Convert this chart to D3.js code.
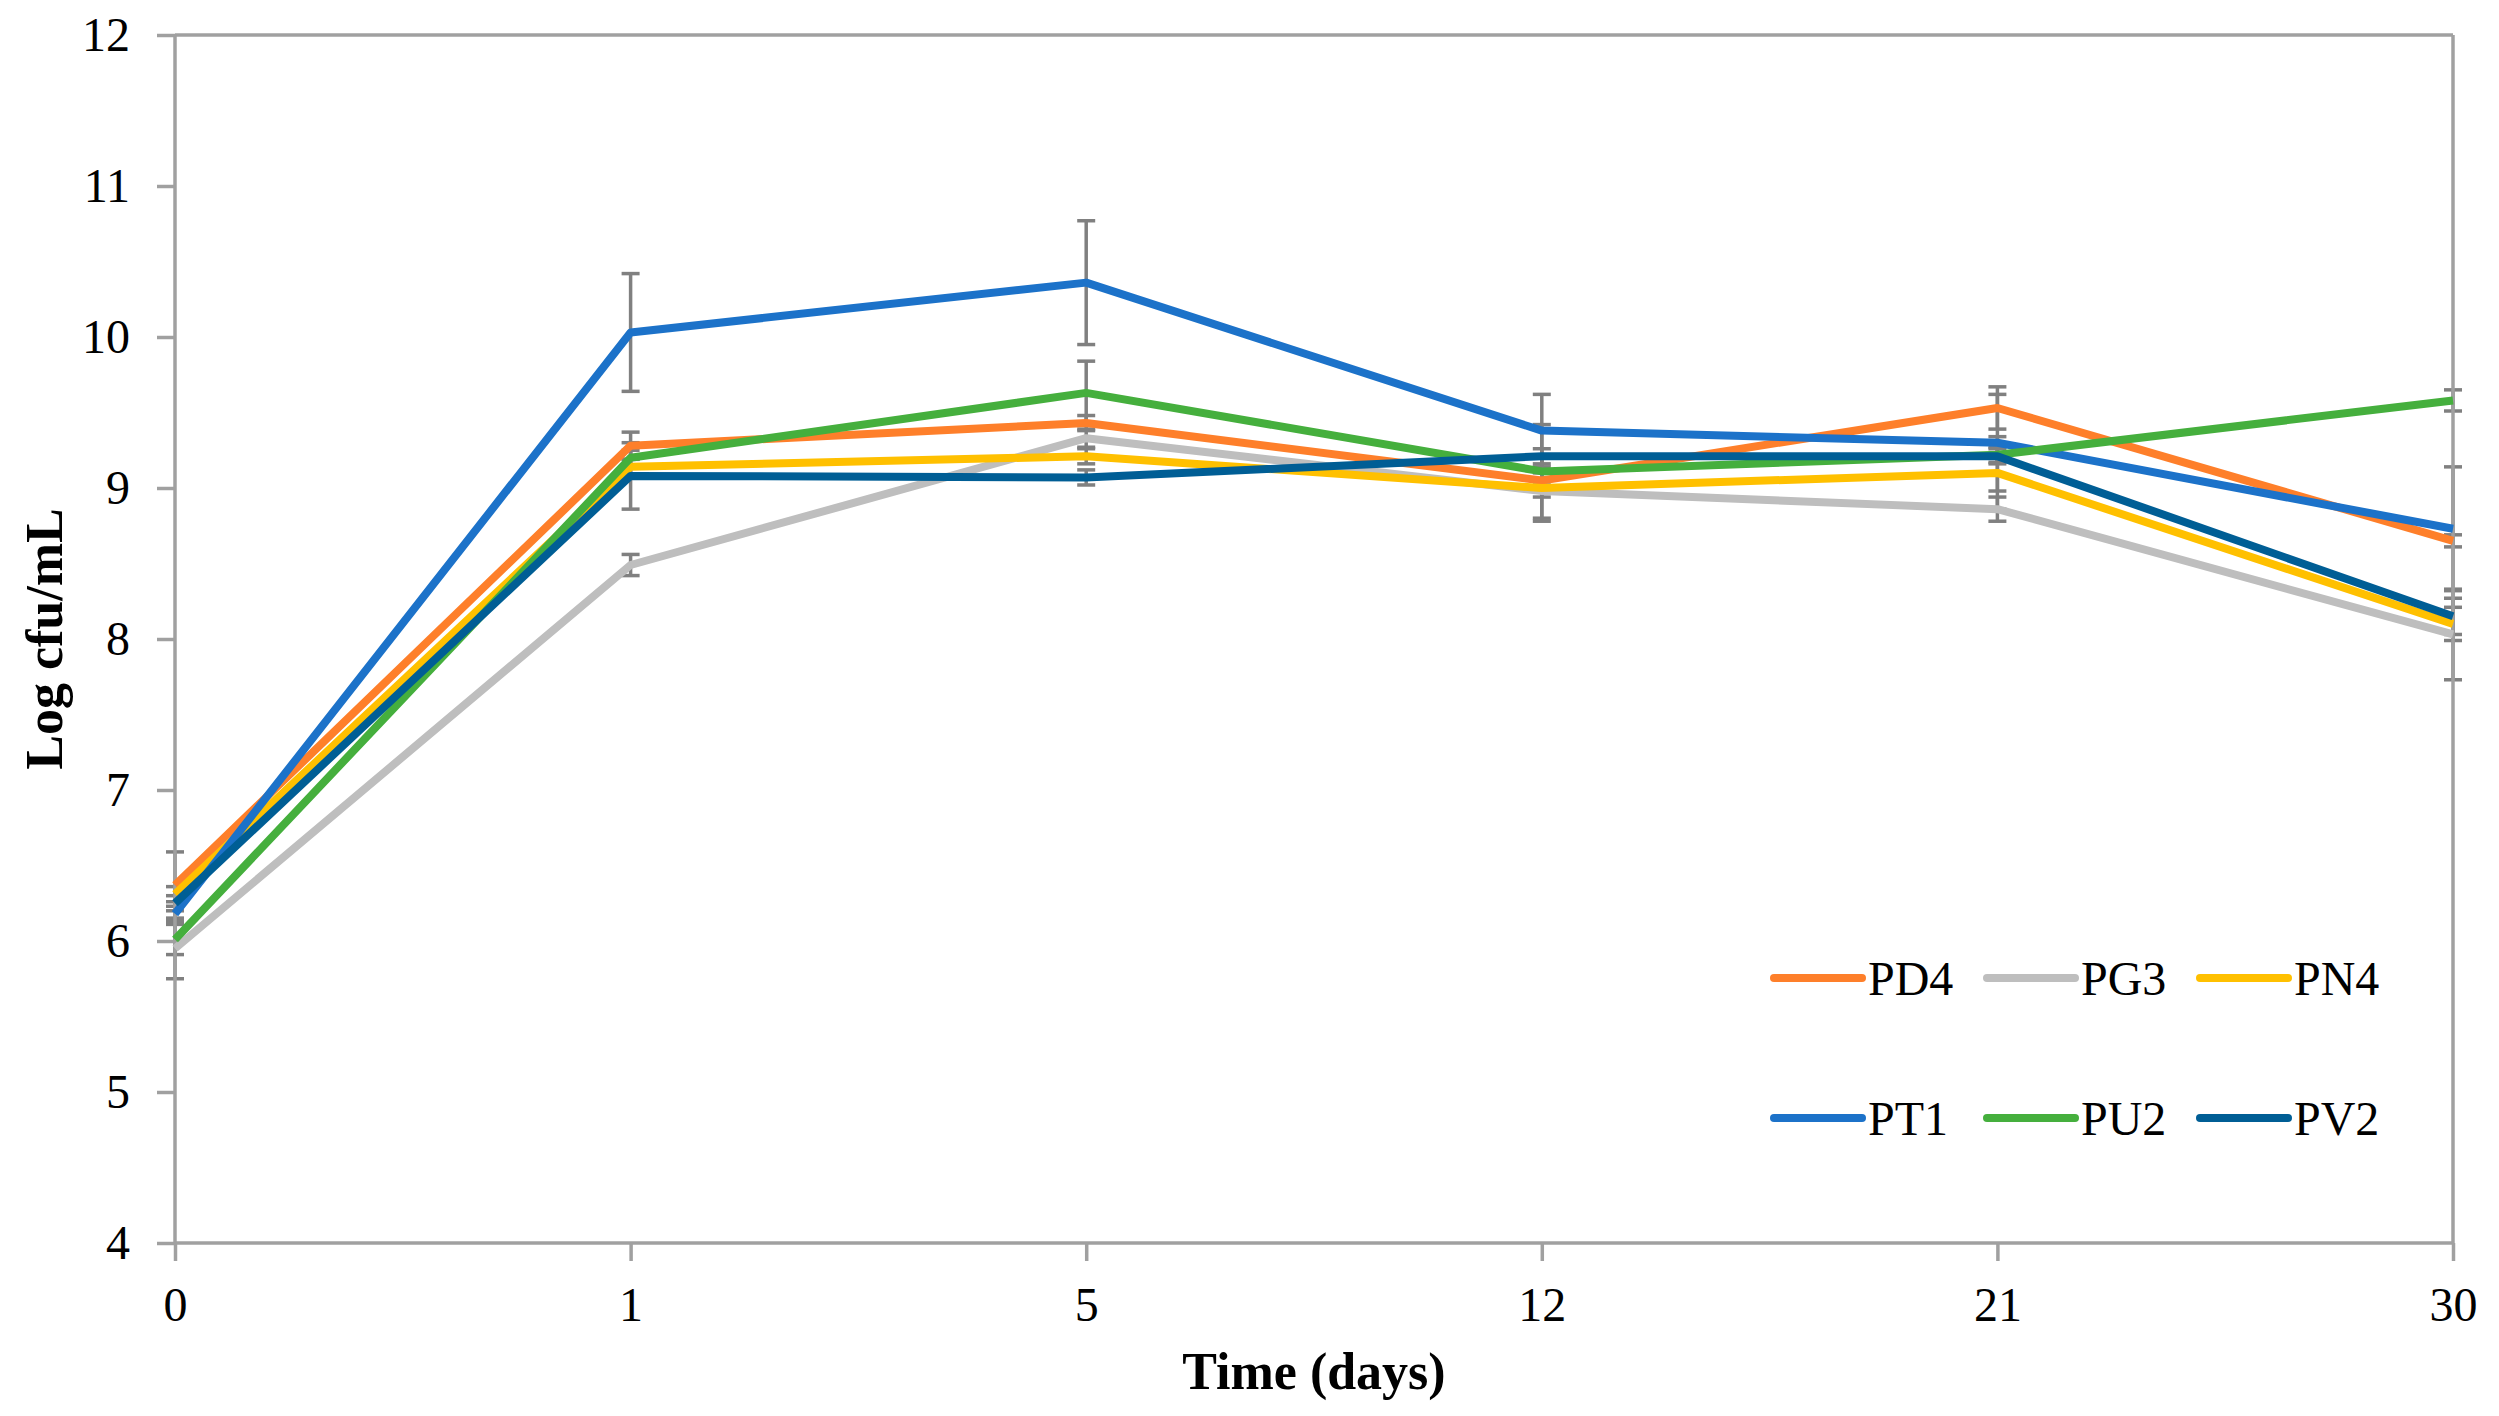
<!DOCTYPE html>
<html>
<head>
<meta charset="utf-8">
<script src="https://cdn.jsdelivr.net/npm/d3@7"></script>
<style>
  body { margin: 0; background: #fff; }
  svg { display: block; font-family: "Liberation Serif", "Times New Roman", serif; }
</style>
</head>
<body>
<svg width="2499" height="1416"></svg>
<script>
// data
const days = ['0', '1', '5', '12', '21', '30'];
const yTicks = [4, 5, 6, 7, 8, 9, 10, 11, 12];

const names = ['PD4', 'PG3', 'PN4', 'PT1', 'PU2', 'PV2'];
const colors = ['#FE7F2A', '#BEBEBE', '#FFC000', '#1C72C9', '#45AF3D', '#005E95'];

const pd4 = [6.37, 9.28, 9.43, 9.05, 9.53, 8.65];
const pg3 = [5.95, 8.49, 9.33, 8.98, 8.86, 8.03];
const pn4 = [6.31, 9.14, 9.21, 9.00, 9.10, 8.10];
const pt1 = [6.18, 10.03, 10.36, 9.38, 9.30, 8.73];
const pu2 = [6.01, 9.20, 9.63, 9.11, 9.22, 9.58];
const pv2 = [6.25, 9.08, 9.07, 9.21, 9.21, 8.15];

const pd4Err = [0.22, 0.09, 0.05, 0.05, 0.14, 0.04];
const pg3Err = [0.20, 0.07, 0.06, 0.04, 0.08, 0.30];
const pn4Err = [0.05, 0.05, 0.05, 0.22, 0.24, 0.11];
const pt1Err = [0.05, 0.39, 0.41, 0.24, 0.32, 0.41];
const pu2Err = [0.10, 0.05, 0.21, 0.31, 0.05, 0.07];
const pv2Err = [0.05, 0.22, 0.05, 0.05, 0.05, 0.12];

const values = [pd4, pg3, pn4, pt1, pu2, pv2];
const errors = [pd4Err, pg3Err, pn4Err, pt1Err, pu2Err, pv2Err];

const series = names.map((n, i) => ({
  name: n,
  color: colors[i],
  points: days.map((d, j) => ({ day: d, v: values[i][j], e: errors[i][j] }))
}));

const svg = d3.select('svg');
const mLeft = 175, mRight = 2453, mTop = 35, mBottom = 1243;

const x = d3.scalePoint().domain(days).range([mLeft, mRight]);
const y = d3.scaleLinear().domain([4, 12]).range([mBottom, mTop]);

const axisColor = '#A0A0A0';

// error bars
const eg = svg.append('g').attr('stroke', '#808080').attr('stroke-width', 3.5);
series.forEach(s => {
  s.points.forEach(p => {
    const cx = x(p.day);
    eg.append('line').attr('x1', cx).attr('x2', cx)
      .attr('y1', y(p.v + p.e)).attr('y2', y(p.v - p.e));
    [p.v + p.e, p.v - p.e].forEach(c => {
      eg.append('line').attr('x1', cx - 9).attr('x2', cx + 9)
        .attr('y1', y(c)).attr('y2', y(c));
    });
  });
});

// axes
const yAxis = svg.append('g')
  .attr('transform', `translate(${mLeft},0)`)
  .call(d3.axisLeft(y).tickValues(yTicks).tickSize(18).tickPadding(27).tickFormat(d3.format('d')));
const xAxis = svg.append('g')
  .attr('transform', `translate(0,${mBottom})`)
  .call(d3.axisBottom(x).tickSize(18).tickPadding(26));

[yAxis, xAxis].forEach(a => {
  a.select('.domain').attr('stroke', axisColor).attr('stroke-width', 3.5);
  a.selectAll('.tick line').attr('stroke', axisColor).attr('stroke-width', 3.5);
  a.selectAll('.tick text').attr('fill', '#000')
    .style('font-family', '"Liberation Serif", serif').style('font-size', '48px');
});
yAxis.select('.domain').attr('d', `M0,${mTop}V${mBottom}`);
xAxis.select('.domain').attr('d', `M${mLeft},0H${mRight}`);

// top and right frame
svg.append('line').attr('x1', mLeft).attr('x2', mRight).attr('y1', mTop).attr('y2', mTop)
  .attr('stroke', axisColor).attr('stroke-width', 3.5);
svg.append('line').attr('x1', mRight).attr('x2', mRight).attr('y1', mTop).attr('y2', mBottom)
  .attr('stroke', axisColor).attr('stroke-width', 3.5);

// lines
const line = d3.line().x(d => x(d.day)).y(d => y(d.v));
svg.append('g').selectAll('path').data(series).enter().append('path')
  .attr('d', d => line(d.points))
  .attr('fill', 'none')
  .attr('stroke', d => d.color)
  .attr('stroke-width', 8)
  .attr('stroke-linejoin', 'round');

// axis titles
svg.append('text')
  .attr('x', (mLeft + mRight) / 2).attr('y', 1389)
  .attr('text-anchor', 'middle')
  .style('font-size', '52px').style('font-weight', 'bold')
  .text('Time (days)');
svg.append('text')
  .attr('transform', `translate(62,${(mTop + mBottom) / 2}) rotate(-90)`)
  .attr('text-anchor', 'middle')
  .style('font-size', '52px').style('font-weight', 'bold')
  .text('Log cfu/mL');

// legend
const legend = svg.append('g').attr('transform', 'translate(1774,978)');
series.forEach((s, i) => {
  const col = i % 3, row = Math.floor(i / 3);
  const g = legend.append('g').attr('transform', `translate(${col * 213},${row * 140})`);
  g.append('line').attr('x1', 0).attr('x2', 88).attr('y1', 0).attr('y2', 0)
    .attr('stroke', s.color).attr('stroke-width', 8).attr('stroke-linecap', 'round');
  g.append('text').attr('x', 94).attr('y', 17)
    .style('font-size', '48px').text(s.name);
});
</script>
</body>
</html>
